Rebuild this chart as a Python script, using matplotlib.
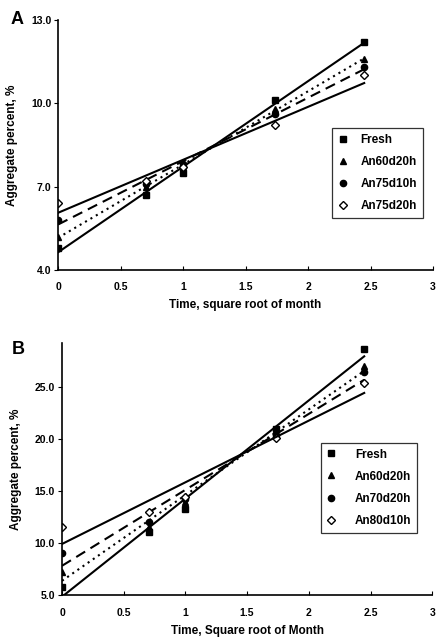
import matplotlib.pyplot as plt
import numpy as np

plt.rcParams['font.family'] = ['Liberation Sans', 'DejaVu Sans']
plt.rcParams['font.weight'] = 'bold'

# time points, square root of month
x = [0, 0.707, 1, 1.732, 2.449]

# panel A
labels_a = ['Fresh', 'An60d20h', 'An75d10h', 'An75d20h']
fresh_a = [4.8, 6.7, 7.5, 10.1, 12.2]
an60d20h_a = [5.2, 7.0, 7.7, 9.8, 11.6]
an75d10h_a = [5.8, 7.1, 7.8, 9.6, 11.3]
an75d20h_a = [6.4, 7.2, 7.7, 9.2, 11.0]

# panel B
labels_b = ['Fresh', 'An60d20h', 'An70d20h', 'An80d10h']
fresh_b = [5.8, 11.1, 13.3, 21.0, 28.6]
an60d20h_b = [7.2, 11.6, 14.0, 20.6, 27.0]
an70d20h_b = [9.1, 12.0, 14.2, 20.4, 26.4]
an80d10h_b = [11.6, 13.0, 14.4, 20.1, 25.4]

markers = [dict(marker='s', mfc='black', ms=4.5), dict(marker='^', mfc='black', ms=4.5),
           dict(marker='o', mfc='black', ms=4.5), dict(marker='D', mfc='white', ms=3.6)]
line_styles = ['-', (0, (1, 2)), (0, (5, 3)), '-']

fig = plt.figure(figsize=(4.37, 6.38), dpi=100)
ax_a = fig.add_axes([0.133, 0.577, 0.858, 0.392])
ax_b = fig.add_axes([0.142, 0.067, 0.847, 0.395])


def draw(ax, series, labels, ylim, yticks, xlabel, legend_pos, textpad):
    xs = np.array(x)
    xx = np.array([0, 2.449])
    for ys, lab, mk, ls in zip(series, labels, markers, line_styles):
        ax.plot(xs, ys, linestyle='none', color='black', mec='black',
                label=lab, **mk)
        # linear trend line through each series
        k, b = np.polyfit(xs, ys, 1)
        ax.plot(xx, k * xx + b, color='black', lw=1.5, linestyle=ls)
    ax.set_xlim(0, 3)
    ax.set_ylim(*ylim)
    ax.set_yticks(yticks)
    ax.set_yticklabels(['%.1f' % t for t in yticks])
    ax.set_xticks([0, 0.5, 1, 1.5, 2, 2.5, 3])
    ax.set_xticklabels(['0', '0.5', '1', '1.5', '2', '2.5', '3'])
    ax.spines['top'].set_visible(False)
    ax.spines['right'].set_visible(False)
    ax.spines['left'].set_linewidth(1.2)
    ax.spines['bottom'].set_linewidth(1.2)
    ax.tick_params(axis='y', direction='out', length=3, labelsize=7.5, pad=2)
    ax.tick_params(axis='x', direction='in', length=3, labelsize=7.5, pad=9)
    ax.set_xlabel(xlabel, fontsize=8.5, fontweight='bold', labelpad=5)
    ax.set_ylabel('Aggregate percent, %', fontsize=8.5, fontweight='bold',
                  labelpad=9)
    leg = ax.legend(loc='center right', bbox_to_anchor=legend_pos,
                    fontsize=8.5, frameon=True, fancybox=False,
                    edgecolor='black', handlelength=0.8, labelspacing=0.85,
                    borderpad=0.5, handletextpad=textpad, borderaxespad=0)
    leg.get_frame().set_linewidth(0.9)
    for t in leg.get_texts():
        t.set_fontweight('bold')


draw(ax_a, [fresh_a, an60d20h_a, an75d10h_a, an75d20h_a], labels_a,
     (4, 13), [4.0, 7.0, 10.0, 13.0], 'Time, square root of month',
     (0.973, 0.388), 1.1)
draw(ax_b, [fresh_b, an60d20h_b, an70d20h_b, an80d10h_b], labels_b,
     (5, 29.2), [5.0, 10.0, 15.0, 20.0, 25.0], 'Time, Square root of Month',
     (0.96, 0.427), 1.6)

fig.text(0.023, 1 - 20 / 638, 'A', fontsize=13, fontweight='bold', va='center', ha='left')
fig.text(0.027, 1 - 350 / 638, 'B', fontsize=13, fontweight='bold', va='center', ha='left')

fig.savefig('out.png', dpi=100)
